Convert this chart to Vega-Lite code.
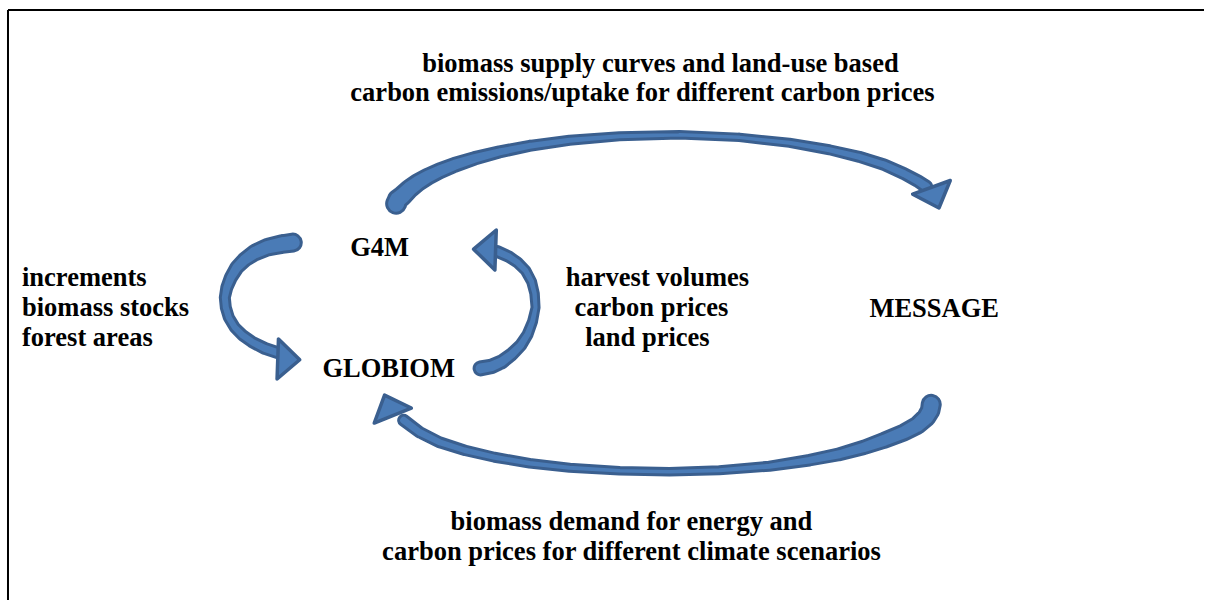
{
  "$schema": "https://vega.github.io/schema/vega-lite/v6.json",
  "width": 1205,
  "height": 601,
  "autosize": {"type": "fit", "contains": "padding"},
  "padding": 0,
  "background": "white",
  "config": {"view": {"stroke": null}},
  "datasets": {
    "frame": [
      {"x": 8, "y": 10, "x2": 1205, "y2": 10},
      {"x": 8, "y": 10, "x2": 8, "y2": 601}
    ],
    "shafts": [
      {"arrow": "A", "i": 1, "x": 396.5, "y": 204, "w": 22},
      {"arrow": "A", "i": 2, "x": 398, "y": 200, "w": 21.5},
      {"arrow": "A", "i": 3, "x": 403, "y": 195.9, "w": 21},
      {"arrow": "A", "i": 4, "x": 410, "y": 189, "w": 20},
      {"arrow": "A", "i": 5, "x": 418, "y": 183, "w": 19},
      {"arrow": "A", "i": 6, "x": 428, "y": 177, "w": 18},
      {"arrow": "A", "i": 7, "x": 440, "y": 171.1, "w": 17},
      {"arrow": "A", "i": 8, "x": 455, "y": 165.1, "w": 16},
      {"arrow": "A", "i": 9, "x": 475, "y": 158.6, "w": 14.5},
      {"arrow": "A", "i": 10, "x": 500, "y": 152.1, "w": 13},
      {"arrow": "A", "i": 11, "x": 530, "y": 146.1, "w": 12},
      {"arrow": "A", "i": 12, "x": 570, "y": 140.5, "w": 11},
      {"arrow": "A", "i": 13, "x": 620, "y": 136.4, "w": 10},
      {"arrow": "A", "i": 14, "x": 680, "y": 135, "w": 9.5},
      {"arrow": "A", "i": 15, "x": 740, "y": 137.6, "w": 9.5},
      {"arrow": "A", "i": 16, "x": 790, "y": 143, "w": 10},
      {"arrow": "A", "i": 17, "x": 830, "y": 150, "w": 11},
      {"arrow": "A", "i": 18, "x": 860, "y": 157.1, "w": 12},
      {"arrow": "A", "i": 19, "x": 885, "y": 165, "w": 12.5},
      {"arrow": "A", "i": 20, "x": 905, "y": 174, "w": 13},
      {"arrow": "A", "i": 21, "x": 918, "y": 181, "w": 13.5},
      {"arrow": "A", "i": 22, "x": 927, "y": 187, "w": 14},
      {"arrow": "B", "i": 1, "x": 932, "y": 405, "w": 21},
      {"arrow": "B", "i": 2, "x": 931, "y": 411, "w": 20.5},
      {"arrow": "B", "i": 3, "x": 927, "y": 418, "w": 20},
      {"arrow": "B", "i": 4, "x": 918, "y": 426, "w": 19},
      {"arrow": "B", "i": 5, "x": 905, "y": 433, "w": 18},
      {"arrow": "B", "i": 6, "x": 885, "y": 441, "w": 17},
      {"arrow": "B", "i": 7, "x": 865, "y": 448, "w": 15.5},
      {"arrow": "B", "i": 8, "x": 840, "y": 455, "w": 14},
      {"arrow": "B", "i": 9, "x": 810, "y": 461, "w": 12.5},
      {"arrow": "B", "i": 10, "x": 770, "y": 467, "w": 11},
      {"arrow": "B", "i": 11, "x": 720, "y": 471, "w": 10},
      {"arrow": "B", "i": 12, "x": 670, "y": 472.5, "w": 9.5},
      {"arrow": "B", "i": 13, "x": 620, "y": 471.5, "w": 9.5},
      {"arrow": "B", "i": 14, "x": 570, "y": 468.5, "w": 10},
      {"arrow": "B", "i": 15, "x": 530, "y": 464, "w": 10.5},
      {"arrow": "B", "i": 16, "x": 495, "y": 458, "w": 11},
      {"arrow": "B", "i": 17, "x": 465, "y": 451, "w": 11.5},
      {"arrow": "B", "i": 18, "x": 440, "y": 443, "w": 12},
      {"arrow": "B", "i": 19, "x": 420, "y": 433, "w": 12.5},
      {"arrow": "B", "i": 20, "x": 404, "y": 421, "w": 13},
      {"arrow": "C", "i": 1, "x": 293, "y": 243, "w": 20},
      {"arrow": "C", "i": 2, "x": 282, "y": 244.5, "w": 19.5},
      {"arrow": "C", "i": 3, "x": 268, "y": 247.5, "w": 18.5},
      {"arrow": "C", "i": 4, "x": 255, "y": 253, "w": 17.5},
      {"arrow": "C", "i": 5, "x": 245, "y": 260, "w": 16},
      {"arrow": "C", "i": 6, "x": 237, "y": 268, "w": 15},
      {"arrow": "C", "i": 7, "x": 231, "y": 278, "w": 14},
      {"arrow": "C", "i": 8, "x": 227, "y": 288, "w": 13},
      {"arrow": "C", "i": 9, "x": 225, "y": 298, "w": 12},
      {"arrow": "C", "i": 10, "x": 226, "y": 308, "w": 12},
      {"arrow": "C", "i": 11, "x": 229, "y": 318, "w": 12},
      {"arrow": "C", "i": 12, "x": 235, "y": 328, "w": 12},
      {"arrow": "C", "i": 13, "x": 243, "y": 336, "w": 12.5},
      {"arrow": "C", "i": 14, "x": 253, "y": 343, "w": 12.5},
      {"arrow": "C", "i": 15, "x": 265, "y": 349, "w": 13},
      {"arrow": "C", "i": 16, "x": 280, "y": 354, "w": 13},
      {"arrow": "D", "i": 1, "x": 481, "y": 369, "w": 16},
      {"arrow": "D", "i": 2, "x": 492, "y": 367, "w": 15.5},
      {"arrow": "D", "i": 3, "x": 502, "y": 362.5, "w": 15},
      {"arrow": "D", "i": 4, "x": 512, "y": 355, "w": 14},
      {"arrow": "D", "i": 5, "x": 521, "y": 346, "w": 13},
      {"arrow": "D", "i": 6, "x": 528, "y": 335, "w": 12},
      {"arrow": "D", "i": 7, "x": 533, "y": 322, "w": 11},
      {"arrow": "D", "i": 8, "x": 536, "y": 308, "w": 10},
      {"arrow": "D", "i": 9, "x": 535, "y": 294, "w": 10.5},
      {"arrow": "D", "i": 10, "x": 532, "y": 282, "w": 11},
      {"arrow": "D", "i": 11, "x": 526, "y": 271, "w": 11.5},
      {"arrow": "D", "i": 12, "x": 518, "y": 263, "w": 12},
      {"arrow": "D", "i": 13, "x": 509, "y": 257, "w": 12.5},
      {"arrow": "D", "i": 14, "x": 498, "y": 252, "w": 13}
    ],
    "heads": [
      {"arrow": "A", "x": 936, "y": 198, "angle": 160},
      {"arrow": "B", "x": 389, "y": 406, "angle": 338},
      {"arrow": "C", "x": 289, "y": 360, "angle": 92},
      {"arrow": "D", "x": 485, "y": 250, "angle": 272}
    ],
    "centered": [
      {"text": "biomass supply curves and land-use based", "x": 661, "y": 72},
      {"text": "carbon emissions/uptake for different carbon prices", "x": 643, "y": 101},
      {"text": "G4M", "x": 380, "y": 256},
      {"text": "GLOBIOM", "x": 389, "y": 378},
      {"text": "MESSAGE", "x": 935, "y": 318},
      {"text": "harvest volumes", "x": 658, "y": 286},
      {"text": "carbon prices", "x": 652, "y": 316.5},
      {"text": "land prices", "x": 648, "y": 347},
      {"text": "biomass demand for energy and", "x": 632, "y": 531},
      {"text": "carbon prices for different climate scenarios", "x": 632, "y": 561}
    ],
    "lefttext": [
      {"text": "increments", "x": 22, "y": 286},
      {"text": "biomass stocks", "x": 22, "y": 316.5},
      {"text": "forest areas", "x": 22, "y": 347}
    ]
  },
  "layer": [
    {
      "data": {"name": "frame"},
      "mark": {"type": "rule", "color": "black", "strokeWidth": 2},
      "encoding": {
        "x": {"field": "x", "type": "quantitative", "scale": {"domain": [0, 1205], "nice": false, "zero": false}, "axis": null},
        "y": {"field": "y", "type": "quantitative", "scale": {"domain": [0, 601], "nice": false, "zero": false, "reverse": true}, "axis": null},
        "x2": {"field": "x2"},
        "y2": {"field": "y2"}
      }
    },
    {
      "data": {"name": "shafts"},
      "mark": {"type": "trail", "color": "#3A5F8F"},
      "encoding": {
        "x": {"field": "x", "type": "quantitative", "scale": {"domain": [0, 1205], "nice": false, "zero": false}, "axis": null},
        "y": {"field": "y", "type": "quantitative", "scale": {"domain": [0, 601], "nice": false, "zero": false, "reverse": true}, "axis": null},
        "size": {"field": "w", "type": "quantitative", "scale": null, "legend": null},
        "detail": {"field": "arrow", "type": "nominal"},
        "order": {"field": "i", "type": "quantitative"}
      }
    },
    {
      "data": {"name": "shafts"},
      "mark": {"type": "trail", "color": "#4A7BB6"},
      "encoding": {
        "x": {"field": "x", "type": "quantitative", "scale": {"domain": [0, 1205], "nice": false, "zero": false}, "axis": null},
        "y": {"field": "y", "type": "quantitative", "scale": {"domain": [0, 601], "nice": false, "zero": false, "reverse": true}, "axis": null},
        "size": {"field": "w", "type": "quantitative", "scale": {"type": "linear", "domain": [6, 26], "range": [0, 20], "zero": false}, "legend": null},
        "detail": {"field": "arrow", "type": "nominal"},
        "order": {"field": "i", "type": "quantitative"}
      }
    },
    {
      "data": {"name": "heads"},
      "mark": {"type": "point", "shape": "M-1,0.55L1,0.55L0,-0.55Z", "filled": true, "fill": "#4A7BB6", "stroke": "#3A5F8F", "strokeWidth": 3.5, "strokeJoin": "round", "opacity": 1, "fillOpacity": 1, "strokeOpacity": 1, "size": 1600},
      "encoding": {
        "x": {"field": "x", "type": "quantitative", "scale": {"domain": [0, 1205], "nice": false, "zero": false}, "axis": null},
        "y": {"field": "y", "type": "quantitative", "scale": {"domain": [0, 601], "nice": false, "zero": false, "reverse": true}, "axis": null},
        "angle": {"field": "angle", "type": "quantitative", "scale": null}
      }
    },
    {
      "data": {"name": "centered"},
      "mark": {"type": "text", "font": "Liberation Serif", "fontWeight": "bold", "fontSize": 26.5, "align": "center", "baseline": "alphabetic", "color": "black"},
      "encoding": {
        "x": {"field": "x", "type": "quantitative", "scale": {"domain": [0, 1205], "nice": false, "zero": false}, "axis": null},
        "y": {"field": "y", "type": "quantitative", "scale": {"domain": [0, 601], "nice": false, "zero": false, "reverse": true}, "axis": null},
        "text": {"field": "text", "type": "nominal"}
      }
    },
    {
      "data": {"name": "lefttext"},
      "mark": {"type": "text", "font": "Liberation Serif", "fontWeight": "bold", "fontSize": 26.5, "align": "left", "baseline": "alphabetic", "color": "black"},
      "encoding": {
        "x": {"field": "x", "type": "quantitative", "scale": {"domain": [0, 1205], "nice": false, "zero": false}, "axis": null},
        "y": {"field": "y", "type": "quantitative", "scale": {"domain": [0, 601], "nice": false, "zero": false, "reverse": true}, "axis": null},
        "text": {"field": "text", "type": "nominal"}
      }
    }
  ]
}
